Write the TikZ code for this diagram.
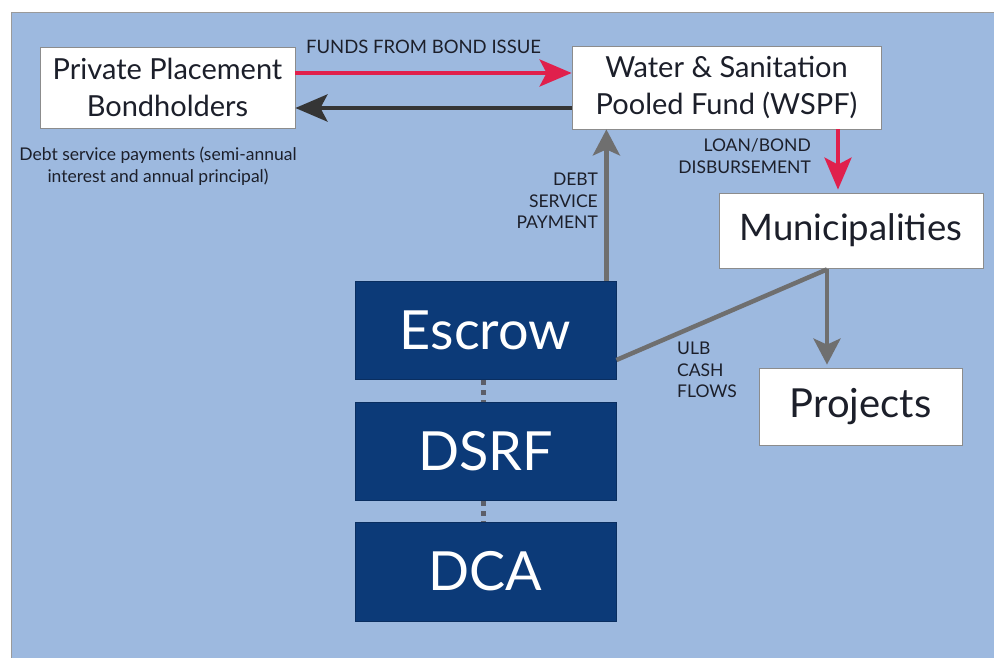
\documentclass[tikz,border=0pt]{standalone}
\usepackage{fontspec}
\setmainfont{Lato}
\usetikzlibrary{arrows.meta}
\definecolor{bgblue}{HTML}{9DB9DF}
\definecolor{navy}{HTML}{0C3A78}
\definecolor{arrred}{HTML}{E0204C}
\definecolor{arrgray}{HTML}{6F6F6F}
\definecolor{dotgray}{HTML}{5C5F6A}
\definecolor{arrdark}{HTML}{353535}
\definecolor{txt}{HTML}{1C1F2A}
\tikzset{
  wbox/.style={draw=arrgray!80, line width=0.8pt, fill=white, align=center, inner sep=0pt, text=txt, font=\fontsize{29}{37}\selectfont},
  nbox/.style={draw=navy!80!black, line width=0.8pt, fill=navy, text=white, inner sep=0pt, minimum width=261pt, minimum height=98pt, font=\fontsize{54}{60}\selectfont},
  lbl/.style={text=txt, inner sep=0pt, font=\fontsize{17.5}{21.5}\selectfont},
  redarrow/.style={draw=arrred, line width=4pt, -{Stealth[length=32pt, width=27pt, inset=7pt]}},
  darkarrow/.style={draw=arrdark, line width=4.5pt, -{Stealth[length=32pt, width=27pt, inset=7pt]}},
  grayarrow/.style={draw=arrgray, line width=4.5pt, -{Stealth[length=26pt, width=27pt, inset=6pt]}},
  grayline/.style={draw=arrgray, line width=4.5pt},
  dotline/.style={draw=dotgray, line width=5pt, dash pattern=on 5pt off 5pt, dash phase=-1pt},
}
\begin{document}
\begin{tikzpicture}[x=1pt,y=-1pt]
\useasboundingbox (0,0) rectangle (994,658);
\fill[white] (0,0) rectangle (994,658);
\fill[bgblue] (11,12) rectangle (994,658);
\draw[arrgray!70, line width=0.8pt] (11,658) -- (11,12) -- (994,12);

% nodes
\node[wbox, minimum width=255pt, minimum height=81pt] (ppb) at (167.5,87.5) {Private Placement\\Bondholders};
\node[wbox, minimum width=309pt, minimum height=83pt] (wspf) at (726.5,87.5) {Water \& Sanitation\\Pooled Fund (WSPF)};
\node[wbox, minimum width=264pt, minimum height=75pt, font=\fontsize{36.5}{40}\selectfont] (mun) at (851,230.5) {Municipalities};
\node[wbox, minimum width=203pt, minimum height=77pt, font=\fontsize{40}{44}\selectfont] (proj) at (860.5,406.5) {Projects};
\node[nbox] (escrow) at (485.5,330) {Escrow};
\node[nbox] (dsrf) at (485.5,451) {DSRF};
\node[nbox, minimum height=99pt] (dca) at (485.5,571.5) {DCA};

% labels
\node[lbl, font=\fontsize{18.5}{21.5}\selectfont] (lfunds) at (423.5,47) {FUNDS FROM BOND ISSUE};
\node[lbl, align=center] (ldebt) at (158,166) {Debt service payments (semi-annual\\interest and annual principal)};
\node[lbl, align=right, anchor=east] (lloan) at (811,156) {LOAN/BOND\\DISBURSEMENT};
\node[lbl, align=right, anchor=east] (ldsp) at (598,201) {DEBT\\SERVICE\\PAYMENT};
\node[lbl, align=left, anchor=west] (lulb) at (677,370) {ULB\\CASH\\FLOWS};

% connectors
\draw[redarrow] ([yshift=14.5pt]ppb.east) -- ([yshift=14.5pt]wspf.west);
\draw[darkarrow] ([yshift=-20.5pt]wspf.west) -- ([yshift=-20.5pt]ppb.east);
\coordinate (upstart) at ([xshift=-10pt]escrow.north east);
\draw[grayarrow] (upstart) -- (upstart |- wspf.south);
\coordinate (downstart) at ([xshift=111.5pt]wspf.south);
\draw[redarrow] (downstart) -- ([yshift=3pt]downstart |- mun.north);
\coordinate (split) at ([xshift=-24pt,yshift=-1pt]mun.south);
\draw[grayline] (split) -- ([yshift=-30pt]escrow.east);
\draw[grayarrow] (split) -- ([yshift=3pt]split |- proj.north);
\draw[dotline] ([xshift=-2.5pt]escrow.south) -- ([xshift=-2.5pt]dsrf.north);
\draw[dotline] ([xshift=-2.5pt]dsrf.south) -- ([xshift=-2.5pt]dca.north);
\end{tikzpicture}
\end{document}
